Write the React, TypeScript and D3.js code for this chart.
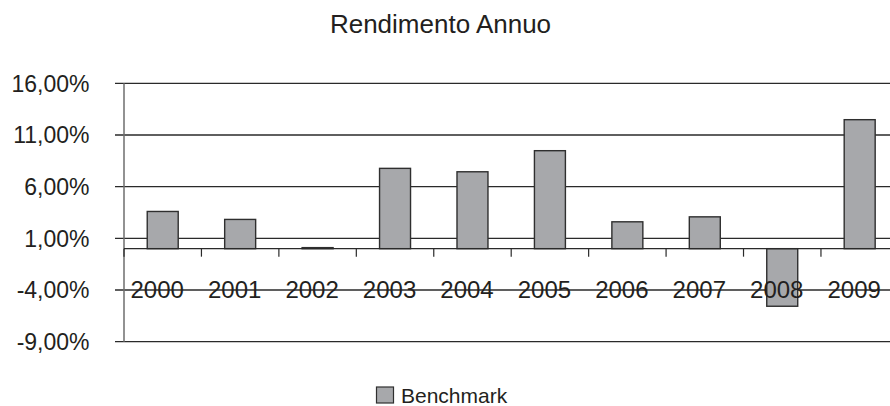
import * as d3 from 'd3';
import { useEffect, useRef } from 'react';

const years = ['2000', '2001', '2002', '2003', '2004', '2005', '2006', '2007', '2008', '2009'];
const benchmark = [3.6, 2.83, 0.1, 7.77, 7.44, 9.48, 2.6, 3.08, -5.57, 12.48];
const yTicks = [-9, -4, 1, 6, 11, 16];
const seriesName = 'Benchmark';
const title = 'Rendimento Annuo';

const fmt = (v: number) => v.toFixed(2).replace('.', ',') + '%';

export default function App() {
  const svgRef = useRef<SVGSVGElement | null>(null);

  useEffect(() => {
    if (!svgRef.current) return;
    const width = 890;
    const height = 406;
    const left = 124;
    const right = 898.4; // the plot runs past the picture's right edge
    const top = 83.3;
    const bottom = 341.7;
    const font = "'Liberation Sans', Arial, sans-serif";
    const ink = '#231f20';

    const svg = d3.select(svgRef.current);
    svg.selectAll('*').remove();
    svg.attr('width', width).attr('height', height).attr('font-family', font);

    const y = d3.scaleLinear().domain([-9, 16]).range([bottom, top]);
    const x = d3.scaleBand<string>().domain(years).range([left, right]).paddingInner(0.6).paddingOuter(0.3);
    const step = x.step();

    // title
    svg.append('text')
      .attr('x', 440.5)
      .attr('y', 33)
      .attr('text-anchor', 'middle')
      .attr('font-size', 26)
      .attr('fill', ink)
      .text(title);

    // gridlines
    svg.append('g')
      .selectAll('line')
      .data(yTicks)
      .join('line')
      .attr('x1', 115)
      .attr('x2', width)
      .attr('y1', d => y(d))
      .attr('y2', d => y(d))
      .attr('stroke', '#2a2a2a')
      .attr('stroke-width', 1.3);

    // y tick labels
    svg.append('g')
      .selectAll('text')
      .data(yTicks)
      .join('text')
      .attr('x', 89.5)
      .attr('y', d => y(d))
      .attr('dy', '0.36em')
      .attr('text-anchor', 'end')
      .attr('font-size', 23)
      .attr('fill', ink)
      .text(d => fmt(d));

    // y axis line
    svg.append('line')
      .attr('x1', left).attr('x2', left)
      .attr('y1', y(16)).attr('y2', y(-9))
      .attr('stroke', '#6e6e6e')
      .attr('stroke-width', 1.5);

    // bars
    svg.append('g')
      .selectAll('rect')
      .data(benchmark)
      .join('rect')
      .attr('x', (_, i) => x(years[i])!)
      .attr('width', x.bandwidth())
      .attr('y', d => y(Math.max(0, d)))
      .attr('height', d => Math.abs(y(d) - y(0)))
      .attr('fill', '#a7a8ab')
      .attr('stroke', '#2f2f2f')
      .attr('stroke-width', 1.4);

    // category axis at zero
    const zero = y(0);
    svg.append('line')
      .attr('x1', left).attr('x2', width)
      .attr('y1', zero).attr('y2', zero)
      .attr('stroke', '#2a2a2a')
      .attr('stroke-width', 1.3);

    svg.append('g')
      .selectAll('line')
      .data(d3.range(years.length + 1))
      .join('line')
      .attr('x1', i => left + i * step)
      .attr('x2', i => left + i * step)
      .attr('y1', zero)
      .attr('y2', zero + 8)
      .attr('stroke', '#2a2a2a')
      .attr('stroke-width', 1.2);

    // labels sit a little left of the band centres, as in the original
    svg.append('g')
      .selectAll('text')
      .data(years)
      .join('text')
      .attr('x', d => x(d)! + x.bandwidth() / 2 - 5.5)
      .attr('y', 298)
      .attr('text-anchor', 'middle')
      .attr('font-size', 24)
      .attr('fill', ink)
      .text(d => d);

    // legend
    svg.append('rect')
      .attr('x', 376.5)
      .attr('y', 387)
      .attr('width', 17)
      .attr('height', 16)
      .attr('fill', '#a7a8ab')
      .attr('stroke', '#2f2f2f')
      .attr('stroke-width', 1.2);

    svg.append('text')
      .attr('x', 401)
      .attr('y', 403)
      .attr('font-size', 21)
      .attr('fill', ink)
      .text(seriesName);
  }, []);

  return (
    <div style={{ position: 'absolute', left: 0, top: 0, background: '#fff' }}>
      <svg ref={svgRef} style={{ display: 'block' }} />
    </div>
  );
}
